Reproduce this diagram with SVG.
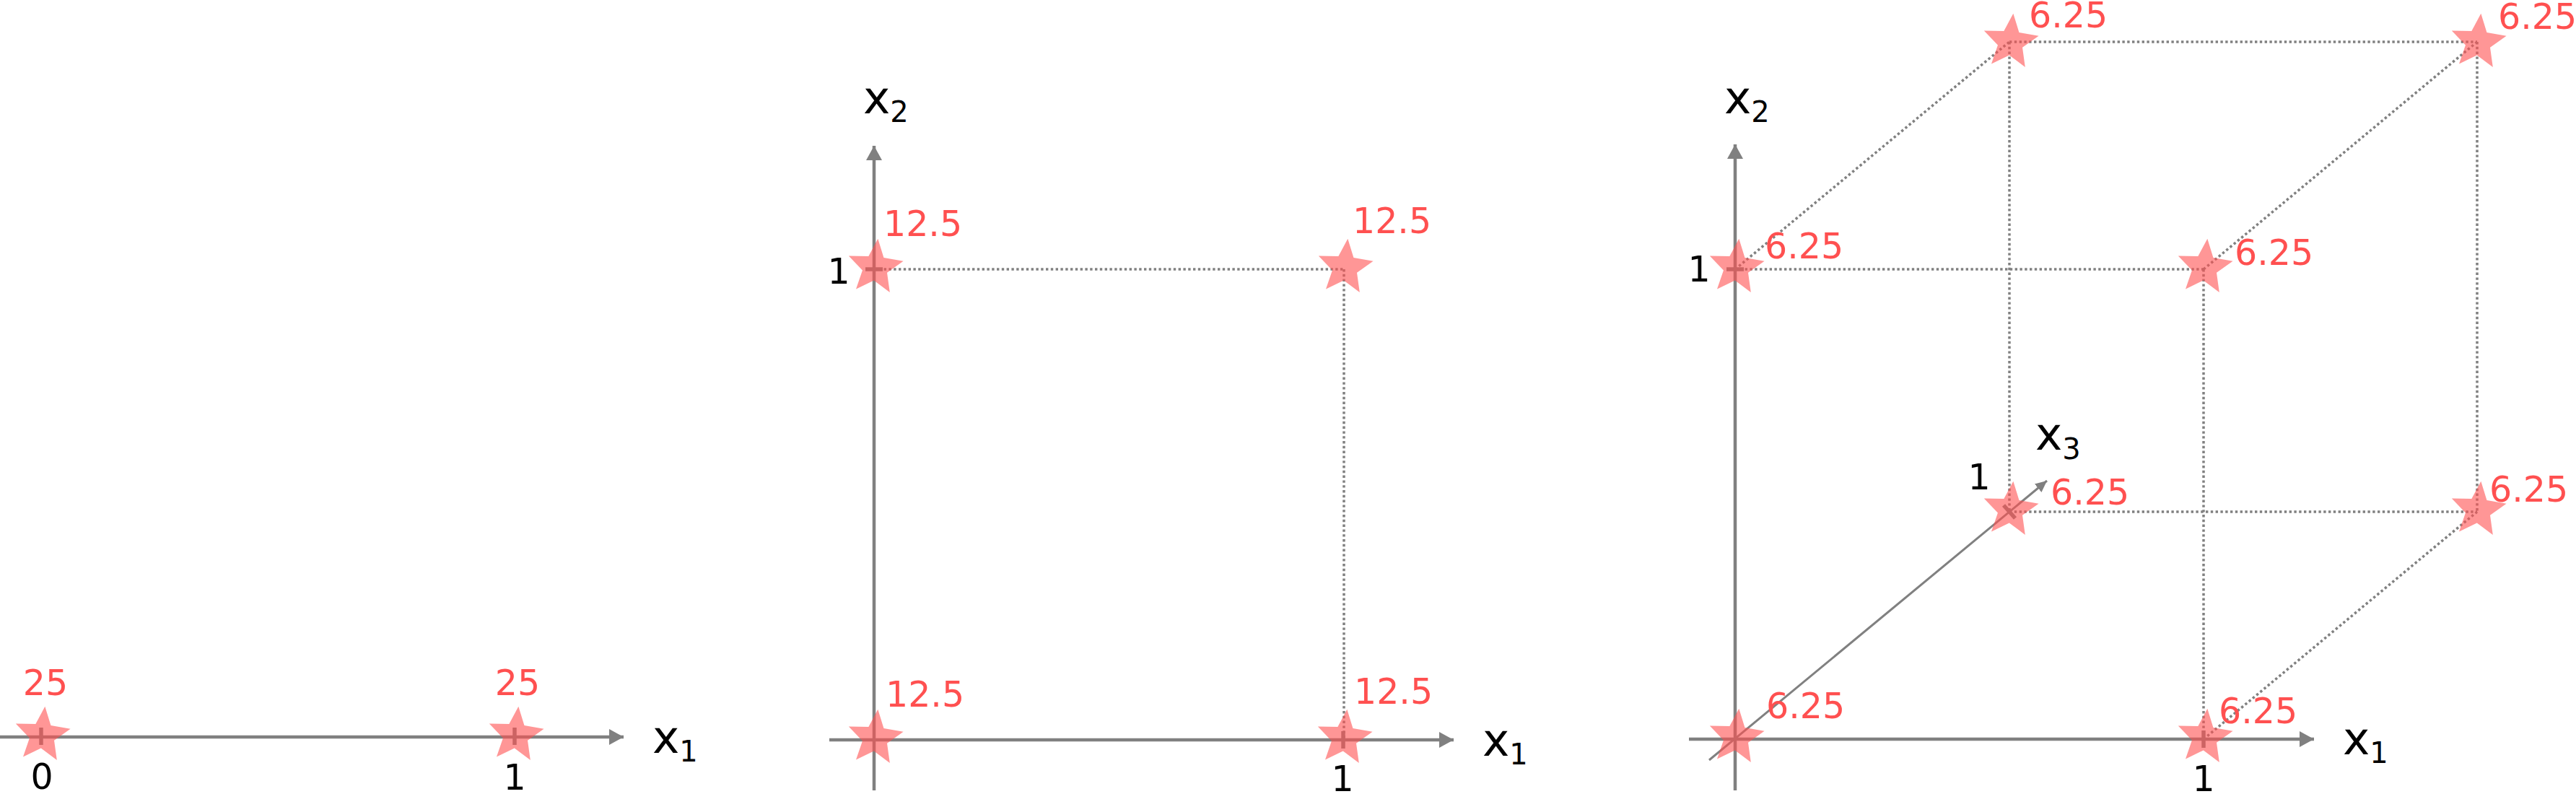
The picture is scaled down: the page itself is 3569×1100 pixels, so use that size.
<svg xmlns="http://www.w3.org/2000/svg" xmlns:xlink="http://www.w3.org/1999/xlink" width="3569" height="1100" viewBox="0 0 3569 1100">
<style>
.axis{stroke:#808080;stroke-width:4.5;fill:none}
.axis3{stroke:#808080;stroke-width:3;fill:none}
.dot{stroke:#808080;stroke-width:3.5;stroke-dasharray:3.4 3.4;fill:none}
.tick{stroke:#808080;stroke-width:5.5}
.star{fill:#ff5050;fill-opacity:0.6}
.val{font-family:"DejaVu Sans",Verdana,sans-serif;font-size:49px;fill:#ff5050}
.lbl{font-family:"DejaVu Sans",Verdana,sans-serif;font-size:49px;fill:#000000}
.ax{font-family:"DejaVu Sans",Verdana,sans-serif;font-size:63px;fill:#000000}
.sub{font-size:40px}
</style>
<defs>
<marker id="ah" markerUnits="userSpaceOnUse" markerWidth="22" markerHeight="24" refX="20" refY="12" orient="auto">
<path d="M0,1 L20,12 L0,23 Z" fill="#808080"/>
</marker>
<marker id="ah3" markerUnits="userSpaceOnUse" markerWidth="17" markerHeight="18" refX="16" refY="9" orient="auto">
<path d="M0,1.5 L16,9 L0,16.5 Z" fill="#808080"/>
</marker>
<path id="star" d="M3.83,-39.82 L11.93,-13.48 L39.05,-8.66 L16.51,7.18 L20.30,34.47 L-1.72,17.92 L-26.50,29.96 L-17.57,3.90 L-36.68,-15.95 L-9.14,-15.51 Z"/>
</defs>
<rect width="3569" height="1100" fill="#ffffff"/>

<g id="connectors">
  <!-- panel 1 -->
  <line class="axis" x1="0" y1="1021" x2="864" y2="1021" marker-end="url(#ah)"/>
  <line class="tick" x1="57" y1="1008" x2="57" y2="1032"/>
  <line class="tick" x1="713" y1="1008" x2="713" y2="1032"/>
  <!-- panel 2 -->
  <line class="axis" x1="1149" y1="1025" x2="2014" y2="1025" marker-end="url(#ah)"/>
  <line class="axis" x1="1211" y1="1095" x2="1211" y2="202" marker-end="url(#ah)"/>
  <line class="dot" x1="1211" y1="373" x2="1862" y2="373"/>
  <line class="dot" x1="1862" y1="373" x2="1862" y2="1025"/>
  <line class="tick" x1="1199" y1="373" x2="1223" y2="373"/>
  <line class="tick" x1="1861" y1="1013" x2="1861" y2="1037"/>
  <!-- panel 3 -->
  <line class="axis" x1="2340" y1="1024" x2="3206" y2="1024" marker-end="url(#ah)"/>
  <line class="axis" x1="2404" y1="1095" x2="2404" y2="200" marker-end="url(#ah)"/>
  <line class="axis3" x1="2368" y1="1053" x2="2836" y2="666" marker-end="url(#ah3)"/>
  <line class="dot" x1="2404" y1="373" x2="3053" y2="373"/>
  <line class="dot" x1="3053" y1="373" x2="3053" y2="1024"/>
  <line class="dot" x1="2404" y1="373" x2="2784" y2="58"/>
  <line class="dot" x1="3053" y1="373" x2="3432" y2="58"/>
  <line class="dot" x1="3053" y1="1024" x2="3432" y2="709"/>
  <line class="dot" x1="2784" y1="58" x2="3432" y2="58"/>
  <line class="dot" x1="3432" y1="58" x2="3432" y2="709"/>
  <line class="dot" x1="2784" y1="709" x2="3432" y2="709"/>
  <line class="dot" x1="2784" y1="58" x2="2784" y2="709"/>
  <line class="tick" x1="2392" y1="373" x2="2416" y2="373"/>
  <line class="tick" x1="3053" y1="1012" x2="3053" y2="1036"/>
  <line class="tick" x1="2776" y1="700" x2="2792" y2="718"/>
</g>

<g id="p1-n0"><use href="#star" class="star" transform="translate(58.5,1018.5)"/><text class="val" x="63" y="963" text-anchor="middle">25</text></g>
<g id="p1-n1"><use href="#star" class="star" transform="translate(714.5,1018.5)"/><text class="val" x="717" y="963" text-anchor="middle">25</text></g>

<g id="p2-n00"><use href="#star" class="star" transform="translate(1212.5,1022.5)"/><text class="val" x="1227" y="979">12.5</text></g>
<g id="p2-n10"><use href="#star" class="star" transform="translate(1862.5,1022.5)"/><text class="val" x="1876" y="975">12.5</text></g>
<g id="p2-n01"><use href="#star" class="star" transform="translate(1212.5,370.5)"/><text class="val" x="1224" y="327">12.5</text></g>
<g id="p2-n11"><use href="#star" class="star" transform="translate(1863.5,370.5)"/><text class="val" x="1874" y="323">12.5</text></g>

<g id="p3-n000"><use href="#star" class="star" transform="translate(2405.5,1021.5)"/><text class="val" x="2447" y="995">6.25</text></g>
<g id="p3-n100"><use href="#star" class="star" transform="translate(3054.5,1021.5)"/><text class="val" x="3074" y="1002">6.25</text></g>
<g id="p3-n010"><use href="#star" class="star" transform="translate(2405.5,370.5)"/><text class="val" x="2445" y="358">6.25</text></g>
<g id="p3-n110"><use href="#star" class="star" transform="translate(3054.5,370.5)"/><text class="val" x="3096" y="367">6.25</text></g>
<g id="p3-n001"><use href="#star" class="star" transform="translate(2785.5,706.5)"/><text class="val" x="2841" y="699">6.25</text></g>
<g id="p3-n101"><use href="#star" class="star" transform="translate(3433.5,706.5)"/><text class="val" x="3449" y="695">6.25</text></g>
<g id="p3-n011"><use href="#star" class="star" transform="translate(2785.5,58.5)"/><text class="val" x="2811" y="38">6.25</text></g>
<g id="p3-n111"><use href="#star" class="star" transform="translate(3433.5,58.5)"/><text class="val" x="3461" y="40">6.25</text></g>

<g id="axis-labels">
  <text class="lbl" x="58" y="1093" text-anchor="middle">0</text>
  <text class="lbl" x="713" y="1094" text-anchor="middle">1</text>
  <text class="ax" x="904" y="1043">x<tspan class="sub" dy="12">1</tspan></text>

  <text class="ax" x="1196" y="157">x<tspan class="sub" dy="12">2</tspan></text>
  <text class="lbl" x="1162" y="393" text-anchor="middle">1</text>
  <text class="lbl" x="1860" y="1096" text-anchor="middle">1</text>
  <text class="ax" x="2054" y="1047">x<tspan class="sub" dy="12">1</tspan></text>

  <text class="ax" x="2389" y="157">x<tspan class="sub" dy="12">2</tspan></text>
  <text class="lbl" x="2354" y="390" text-anchor="middle">1</text>
  <text class="ax" x="2820" y="623">x<tspan class="sub" dy="13">3</tspan></text>
  <text class="lbl" x="2742" y="678" text-anchor="middle">1</text>
  <text class="lbl" x="3053" y="1096" text-anchor="middle">1</text>
  <text class="ax" x="3246" y="1045">x<tspan class="sub" dy="12">1</tspan></text>
</g>
</svg>
